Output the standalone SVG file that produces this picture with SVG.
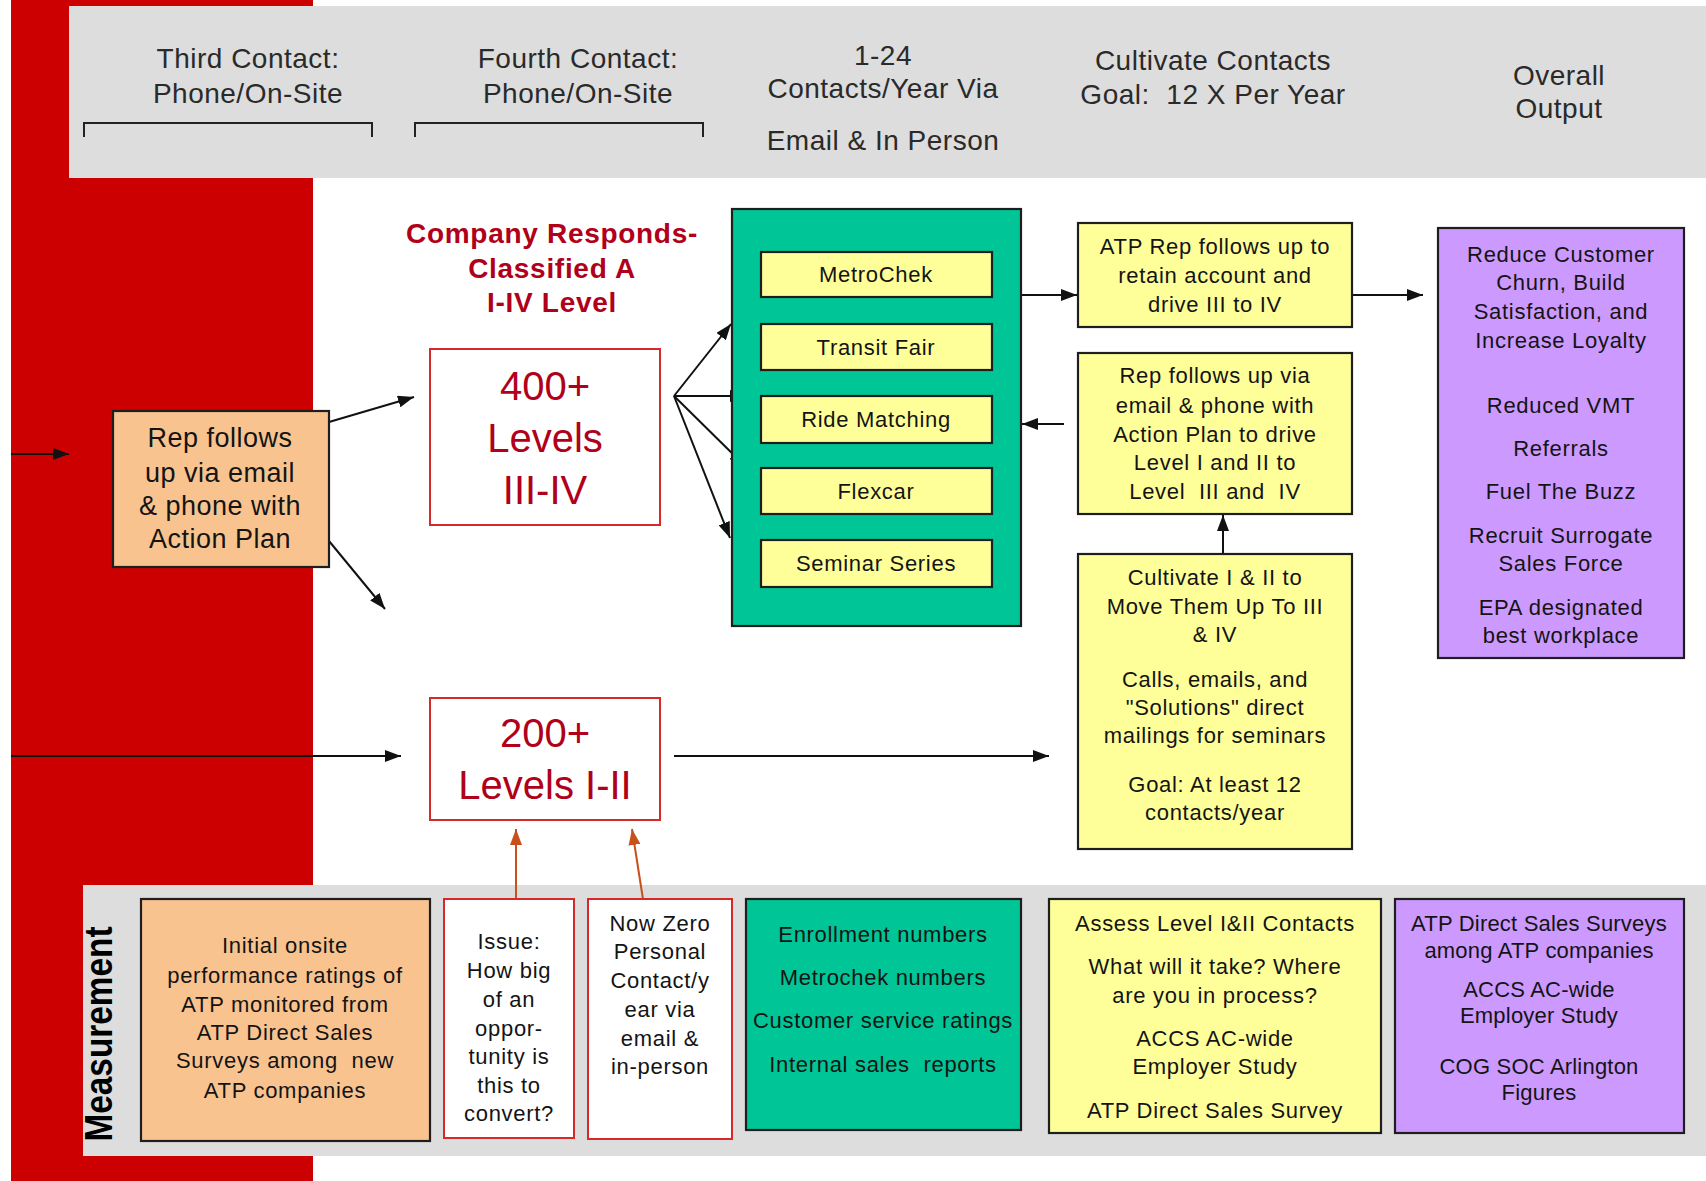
<svg xmlns="http://www.w3.org/2000/svg" width="1706" height="1181" viewBox="0 0 1706 1181">
  <style>
    text { font-family: "Liberation Sans", Arial, sans-serif; text-anchor: middle; white-space: pre; }
    .hdr { font-size: 28px; letter-spacing: 0.5px; fill: #2a2a2a; }
    .t { font-size: 22px; letter-spacing: 0.7px; fill: #141414; }
    .ts { font-size: 22px; letter-spacing: 0.2px; fill: #141414; }
    .tl { font-size: 27px; letter-spacing: 0.5px; fill: #141414; }
    .lvl { font-size: 40px; fill: #b0001a; }
    .co { font-size: 28px; font-weight: bold; letter-spacing: 0.7px; fill: #b0001a; }
    .box { stroke: #1e1e1e; stroke-width: 2.2; }
    .orange { fill: #f9c38f; }
    .green { fill: #00c596; }
    .yellow { fill: #ffff99; }
    .purple { fill: #cc99ff; }
    .rbox { fill: #ffffff; stroke: #d42a2a; stroke-width: 2; }
    .bk { stroke: #111; stroke-width: 2; fill: none; marker-end: url(#ah); }
    .or { stroke: #c8501a; stroke-width: 2; fill: none; marker-end: url(#ahOr); }
    .brk { stroke: #222; stroke-width: 2; fill: none; }
  </style>
  <defs>
    <marker id="ah" viewBox="0 0 16 12" refX="16" refY="6" markerWidth="16" markerHeight="12" markerUnits="userSpaceOnUse" orient="auto">
      <path d="M0,0 L16,6 L0,12 Z" fill="#111"/>
    </marker>
    <marker id="ahOr" viewBox="0 0 16 12" refX="16" refY="6" markerWidth="16" markerHeight="12" markerUnits="userSpaceOnUse" orient="auto">
      <path d="M0,0 L16,6 L0,12 Z" fill="#c8501a"/>
    </marker>
  </defs>

  <!-- background bands -->
  <rect x="0" y="0" width="1706" height="1181" fill="#ffffff"/>
  <rect x="11" y="0" width="302" height="1181" fill="#cc0000"/>
  <rect x="69" y="6" width="1637" height="172" fill="#dddddd"/>
  <rect x="83" y="885" width="1623" height="271" fill="#dddddd"/>

  <!-- column headings -->
  <g id="headings">
    <text class="hdr" x="248" y="68">Third Contact:</text>
    <text class="hdr" x="248" y="103">Phone/On-Site</text>
    <path class="brk" d="M84,137 V123 H372 V137"/>
    <text class="hdr" x="578" y="68">Fourth Contact:</text>
    <text class="hdr" x="578" y="103">Phone/On-Site</text>
    <path class="brk" d="M415,137 V123 H703 V137"/>
    <text class="hdr" x="883" y="65">1-24</text>
    <text class="hdr" x="883" y="98">Contacts/Year Via</text>
    <text class="hdr" x="883" y="150">Email &amp; In Person</text>
    <text class="hdr" x="1213" y="70">Cultivate Contacts</text>
    <text class="hdr" x="1213" y="104">Goal:  12 X Per Year</text>
    <text class="hdr" x="1559" y="85">Overall</text>
    <text class="hdr" x="1559" y="118">Output</text>
  </g>

  <!-- connectors -->
  <g id="connectors">
    <line class="bk" x1="11" y1="454" x2="69" y2="454"/>
    <line class="bk" x1="329" y1="422" x2="414" y2="397"/>
    <line class="bk" x1="329" y1="541" x2="385" y2="609"/>
    <line class="bk" x1="674" y1="396" x2="731" y2="324"/>
    <line class="bk" x1="674" y1="396" x2="746" y2="396"/>
    <line class="bk" x1="674" y1="396" x2="745" y2="466"/>
    <line class="bk" x1="674" y1="396" x2="730" y2="538"/>
    <line class="bk" x1="1021" y1="295" x2="1077" y2="295"/>
    <line class="bk" x1="1352" y1="295" x2="1423" y2="295"/>
    <line class="bk" x1="1064" y1="424" x2="1022" y2="424"/>
    <line class="bk" x1="1223" y1="553" x2="1223" y2="515"/>
    <line class="bk" x1="11" y1="756" x2="401" y2="756"/>
    <line class="bk" x1="674" y1="756" x2="1049" y2="756"/>
    <line class="or" x1="516" y1="915" x2="516" y2="829"/>
    <line class="or" x1="645" y1="912" x2="632" y2="829"/>
  </g>

  <!-- orange follow-up box -->
  <g id="rep-follows-up">
    <rect class="box orange" x="113" y="411" width="216" height="156"/>
    <text class="tl" x="220" y="447">Rep follows</text>
    <text class="tl" x="220" y="482">up via email</text>
    <text class="tl" x="220" y="515">&amp; phone with</text>
    <text class="tl" x="220" y="548">Action Plan</text>
  </g>

  <g id="company-responds">
    <text class="co" x="552" y="243">Company Responds-</text>
    <text class="co" x="552" y="278">Classified A</text>
    <text class="co" x="552" y="312">I-IV Level</text>
  </g>

  <g id="levels-3-4">
    <rect class="rbox" x="430" y="349" width="230" height="176"/>
    <text class="lvl" x="545" y="400">400+</text>
    <text class="lvl" x="545" y="452">Levels</text>
    <text class="lvl" x="545" y="504">III-IV</text>
  </g>

  <g id="levels-1-2">
    <rect class="rbox" x="430" y="698" width="230" height="122"/>
    <text class="lvl" x="545" y="747">200+</text>
    <text class="lvl" x="545" y="799">Levels I-II</text>
  </g>

  <!-- programs -->
  <g id="programs">
    <rect class="box green" x="732" y="209" width="289" height="417"/>
    <g id="metrochek">
      <rect class="box yellow" x="761" y="252" width="231" height="45"/>
      <text class="t" x="876" y="282">MetroChek</text>
    </g>
    <g id="transit-fair">
      <rect class="box yellow" x="761" y="324" width="231" height="46"/>
      <text class="t" x="876" y="355">Transit Fair</text>
    </g>
    <g id="ride-matching">
      <rect class="box yellow" x="761" y="396" width="231" height="47"/>
      <text class="t" x="876" y="427">Ride Matching</text>
    </g>
    <g id="flexcar">
      <rect class="box yellow" x="761" y="468" width="231" height="46"/>
      <text class="t" x="876" y="499">Flexcar</text>
    </g>
    <g id="seminar-series">
      <rect class="box yellow" x="761" y="540" width="231" height="47"/>
      <text class="t" x="876" y="571">Seminar Series</text>
    </g>
  </g>

  <g id="atp-rep-follows">
    <rect class="box yellow" x="1078" y="223" width="274" height="104"/>
    <text class="t" x="1215" y="254">ATP Rep follows up to</text>
    <text class="t" x="1215" y="283">retain account and</text>
    <text class="t" x="1215" y="312">drive III to IV</text>
  </g>

  <g id="rep-action-plan">
    <rect class="box yellow" x="1078" y="353" width="274" height="161"/>
    <text class="t" x="1215" y="383">Rep follows up via</text>
    <text class="t" x="1215" y="413">email &amp; phone with</text>
    <text class="t" x="1215" y="442">Action Plan to drive</text>
    <text class="t" x="1215" y="470">Level I and II to</text>
    <text class="t" x="1215" y="499">Level  III and  IV</text>
  </g>

  <g id="cultivate">
    <rect class="box yellow" x="1078" y="554" width="274" height="295"/>
    <text class="t" x="1215" y="585">Cultivate I &amp; II to</text>
    <text class="t" x="1215" y="614">Move Them Up To III</text>
    <text class="t" x="1215" y="642">&amp; IV</text>
    <text class="t" x="1215" y="687">Calls, emails, and</text>
    <text class="t" x="1215" y="715">"Solutions" direct</text>
    <text class="t" x="1215" y="743">mailings for seminars</text>
    <text class="t" x="1215" y="792">Goal: At least 12</text>
    <text class="t" x="1215" y="820">contacts/year</text>
  </g>

  <g id="overall-output">
    <rect class="box purple" x="1438" y="228" width="246" height="430"/>
    <text class="t" x="1561" y="262">Reduce Customer</text>
    <text class="t" x="1561" y="290">Churn, Build</text>
    <text class="t" x="1561" y="319">Satisfaction, and</text>
    <text class="t" x="1561" y="348">Increase Loyalty</text>
    <text class="t" x="1561" y="413">Reduced VMT</text>
    <text class="t" x="1561" y="456">Referrals</text>
    <text class="t" x="1561" y="499">Fuel The Buzz</text>
    <text class="t" x="1561" y="543">Recruit Surrogate</text>
    <text class="t" x="1561" y="571">Sales Force</text>
    <text class="t" x="1561" y="615">EPA designated</text>
    <text class="t" x="1561" y="643">best workplace</text>
  </g>

  <!-- measurement row -->
  <g id="measurement-label">
    <text x="0" y="0" transform="translate(112,1034) rotate(-90)" font-size="38" font-weight="bold" fill="#000" textLength="215" lengthAdjust="spacingAndGlyphs">Measurement</text>
  </g>

  <g id="initial-ratings">
    <rect class="box orange" x="141" y="899" width="289" height="242"/>
    <text class="t" x="285" y="953">Initial onsite</text>
    <text class="t" x="285" y="983">performance ratings of</text>
    <text class="t" x="285" y="1012">ATP monitored from</text>
    <text class="t" x="285" y="1040">ATP Direct Sales</text>
    <text class="t" x="285" y="1068">Surveys among  new</text>
    <text class="t" x="285" y="1098">ATP companies</text>
  </g>

  <g id="issue">
    <rect class="rbox" x="444" y="899" width="130" height="239"/>
    <text class="t" x="509" y="949">Issue:</text>
    <text class="t" x="509" y="978">How big</text>
    <text class="t" x="509" y="1007">of an</text>
    <text class="t" x="509" y="1036">oppor-</text>
    <text class="t" x="509" y="1064">tunity is</text>
    <text class="t" x="509" y="1093">this to</text>
    <text class="t" x="509" y="1121">convert?</text>
  </g>

  <g id="now-zero">
    <rect class="rbox" x="588" y="899" width="144" height="240"/>
    <text class="t" x="660" y="931">Now Zero</text>
    <text class="t" x="660" y="959">Personal</text>
    <text class="t" x="660" y="988">Contact/y</text>
    <text class="t" x="660" y="1017">ear via</text>
    <text class="t" x="660" y="1046">email &amp;</text>
    <text class="t" x="660" y="1074">in-person</text>
  </g>

  <g id="program-metrics">
    <rect class="box green" x="746" y="899" width="275" height="231"/>
    <text class="t" x="883" y="942">Enrollment numbers</text>
    <text class="t" x="883" y="985">Metrochek numbers</text>
    <text class="t" x="883" y="1028">Customer service ratings</text>
    <text class="t" x="883" y="1072">Internal sales  reports</text>
  </g>

  <g id="contact-assessment">
    <rect class="box yellow" x="1049" y="899" width="332" height="234"/>
    <text class="t" x="1215" y="931">Assess Level I&amp;II Contacts</text>
    <text class="t" x="1215" y="974">What will it take? Where</text>
    <text class="t" x="1215" y="1003">are you in process?</text>
    <text class="t" x="1215" y="1046">ACCS AC-wide</text>
    <text class="t" x="1215" y="1074">Employer Study</text>
    <text class="t" x="1215" y="1118">ATP Direct Sales Survey</text>
  </g>

  <g id="output-studies">
    <rect class="box purple" x="1395" y="899" width="289" height="234"/>
    <text class="ts" x="1539" y="931">ATP Direct Sales Surveys</text>
    <text class="ts" x="1539" y="958">among ATP companies</text>
    <text class="ts" x="1539" y="997">ACCS AC-wide</text>
    <text class="ts" x="1539" y="1023">Employer Study</text>
    <text class="ts" x="1539" y="1074">COG SOC Arlington</text>
    <text class="ts" x="1539" y="1100">Figures</text>
  </g>
</svg>
